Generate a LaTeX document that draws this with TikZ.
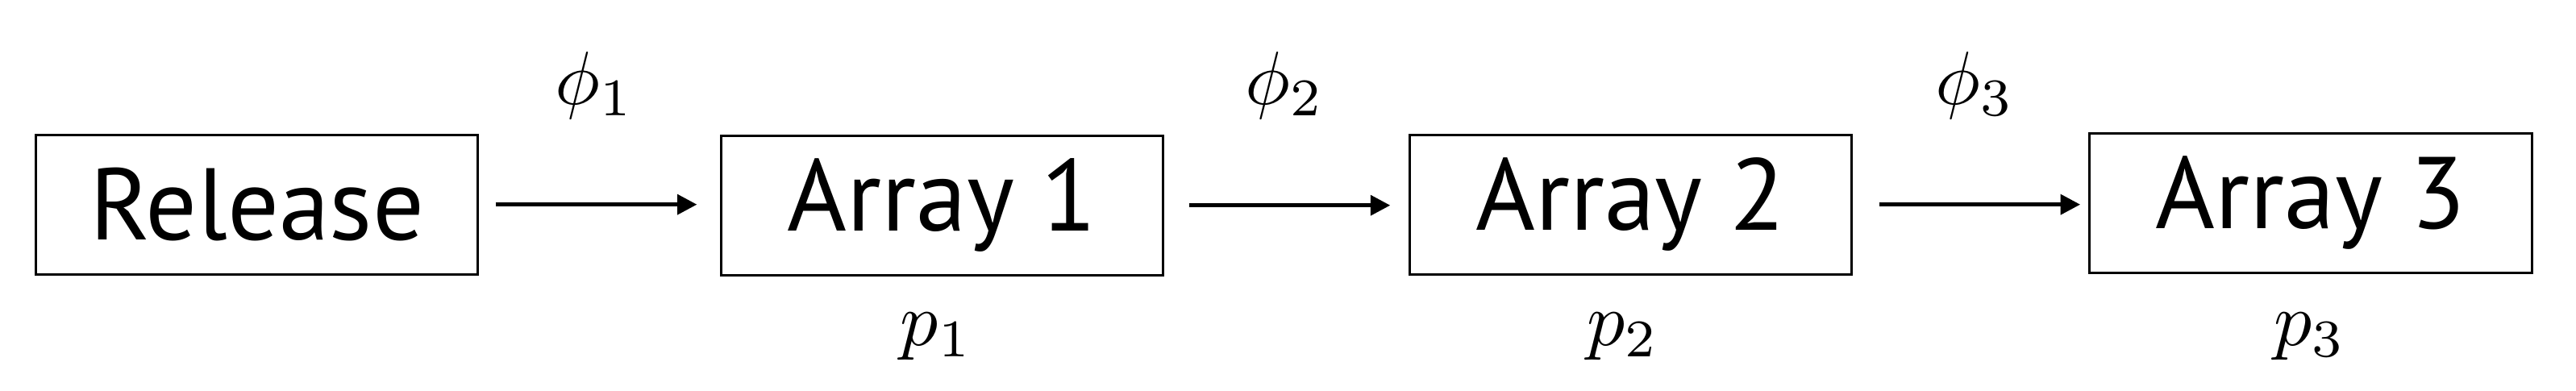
\documentclass[tikz,border=0pt]{standalone}
\usepackage{fontspec}
\setmainfont{PT Sans}
\usetikzlibrary{arrows.meta}
\begin{document}
\begin{tikzpicture}[x=1pt,y=-1pt,
  box/.style={draw,line width=1.5pt,minimum width=269pt,minimum height=85pt,inner sep=0pt,font=\fontsize{62}{70}\selectfont},
  arr/.style={-{Triangle[length=12pt,width=12pt]},line width=2.5pt},
  lab/.style={scale=4.6}]
\useasboundingbox (0,0) rectangle (1568,238);
\node[box] (r) at (156.5,124.5) {Release};
\node[box] (a1) at (573.5,125) {Array 1};
\node[box] (a2) at (992.5,124.5) {Array 2};
\node[box] (a3) at (1406.5,123.5) {Array 3};
\draw[arr] ([xshift=10pt]r.east) -- ([xshift=-14pt]r.east -| a1.west);
\draw[arr] ([xshift=15pt]a1.east) -- ([xshift=-11pt]a1.east -| a2.west);
\draw[arr] ([xshift=16pt]a2.east) -- ([xshift=-5pt]a2.east -| a3.west);
\node[lab] (f1) at (362,52) {$\phi_1$};
\node[lab] (f2) at (782,52) {$\phi_2$};
\node[lab] (f3) at (1202,52) {$\phi_3$};
\node[lab] (p1) at (570,205) {$p_1$};
\node[lab] (p2) at (988,205) {$p_2$};
\node[lab] (p3) at (1406,205) {$p_3$};
\end{tikzpicture}
\end{document}
